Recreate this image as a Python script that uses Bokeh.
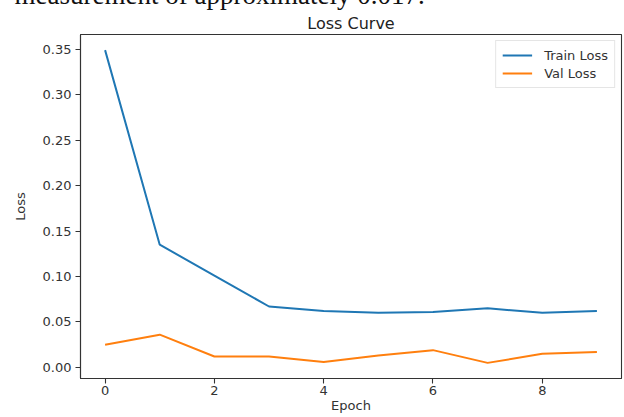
from bokeh.plotting import figure
from bokeh.models import Range1d, FixedTicker, Title, Legend, LegendItem, NumeralTickFormatter
from bokeh.embed import file_html
from bokeh.resources import INLINE

epochs = [0, 1, 2, 3, 4, 5, 6, 7, 8, 9]
train_loss = [0.349, 0.135, 0.101, 0.067, 0.062, 0.060, 0.061, 0.065, 0.060, 0.062]
val_loss = [0.025, 0.036, 0.012, 0.012, 0.006, 0.013, 0.019, 0.005, 0.015, 0.017]
x_ticks = [0, 2, 4, 6, 8]
y_ticks = [0.0, 0.05, 0.10, 0.15, 0.20, 0.25, 0.30, 0.35]
title_text = "Loss Curve"
caption_text = "measurement of approximately 0.017."
x_label = "Epoch"
y_label = "Loss"

W, H = 624, 417
L, R, T, B = 80, 621, 34, 378   # frame edges in page pixels
LIFT = 30                        # figure starts above the page so the caption is cut off like the reference
FONT = "DejaVu Sans"
TXT = "#333333"

lo = min(min(train_loss), min(val_loss))
hi = max(max(train_loss), max(val_loss))
pad = 0.05 * (hi - lo)
xpad = 0.05 * (max(epochs) - min(epochs))
x0, x1 = min(epochs) - xpad, max(epochs) + xpad
y0, y1 = lo - pad, hi + pad

p = figure(width=W, height=H + LIFT, output_backend="svg", toolbar_location=None,
           x_range=Range1d(x0, x1), y_range=Range1d(y0, y1),
           min_border_left=L, min_border_right=W - R, min_border_top=T + LIFT,
           min_border_bottom=H - B,
           styles={"position": "absolute", "left": "0px", "top": f"-{LIFT}px"})
p.grid.visible = False
p.background_fill_color = "white"
p.border_fill_color = "white"
p.outline_line_color = "#333333"
p.outline_line_width = 1.1

# outermost title: the page caption (partly cut off at the top edge)
p.title.text = caption_text
p.title.align = "left"
p.title.offset = 14 - L
p.title.text_font = "Liberation Serif"
p.title.text_font_size = "27px"
p.title.text_font_style = "normal"
p.title.text_color = "#111111"
p.title.standoff = 0

# chart title, nearest to the frame
p.add_layout(Title(text=title_text, align="center", text_font=FONT, text_font_size="16px",
                   text_font_style="normal", text_color="#222222", standoff=4), "above")

for ax in (p.xaxis[0], p.yaxis[0]):
    ax.axis_line_color = "#333333"
    ax.axis_line_width = 1.1
    ax.major_tick_line_color = "#333333"
    ax.major_tick_line_width = 1.1
    ax.major_tick_in = 0
    ax.major_tick_out = 5
    ax.minor_tick_line_color = None
    ax.major_label_text_font = FONT
    ax.major_label_text_font_size = "13px"
    ax.major_label_text_color = TXT
    ax.axis_label_text_font = FONT
    ax.axis_label_text_font_size = "13px"
    ax.axis_label_text_font_style = "normal"
    ax.axis_label_text_color = TXT

p.xaxis.ticker = FixedTicker(ticks=x_ticks)
p.yaxis.ticker = FixedTicker(ticks=y_ticks)
p.yaxis.formatter = NumeralTickFormatter(format="0.00")
p.xaxis.major_label_standoff = 2
p.yaxis.major_label_standoff = 4
p.xaxis.axis_label = x_label
p.yaxis.axis_label = y_label
p.xaxis.axis_label_standoff = 0
p.yaxis.axis_label_standoff = 12

r1 = p.line(epochs, train_loss, line_color="#1f77b4", line_width=2)
r2 = p.line(epochs, val_loss, line_color="#ff7f0e", line_width=2)

legend = Legend(items=[LegendItem(label="Train Loss", renderers=[r1]),
                       LegendItem(label="Val Loss", renderers=[r2])],
                location="top_right", margin=6, padding=6, spacing=2,
                glyph_width=30, glyph_height=16, label_standoff=12,
                label_text_font=FONT, label_text_font_size="13px", label_text_color=TXT,
                label_height=16,
                border_line_color="#cccccc", border_line_width=1, background_fill_alpha=0.8)
p.add_layout(legend)

open("out.html", "w").write(file_html(p, INLINE))
